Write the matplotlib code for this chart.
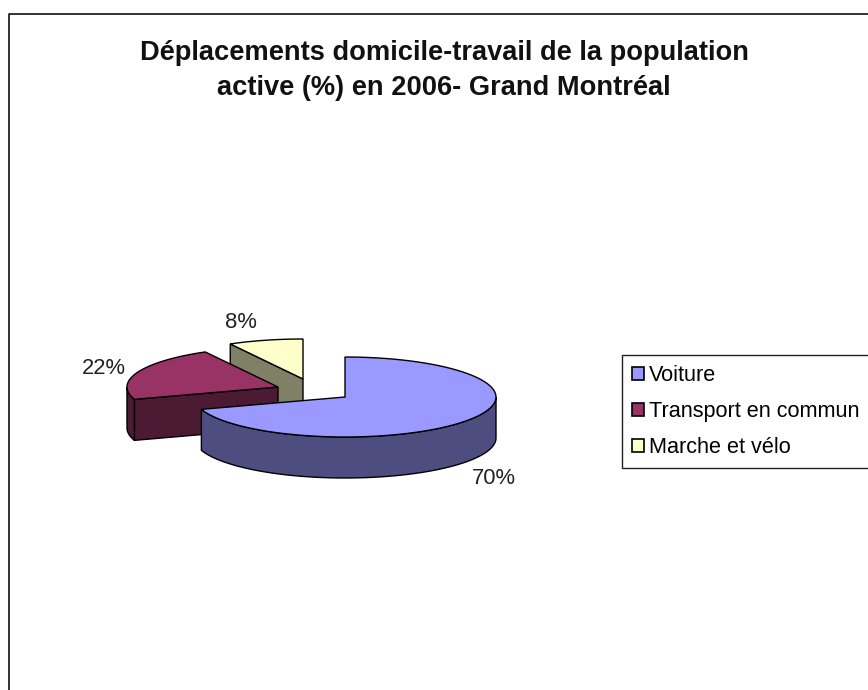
import numpy as np
import matplotlib.pyplot as plt
from matplotlib.patches import Polygon, Patch

plt.rcParams['font.family'] = ['Liberation Sans', 'DejaVu Sans']

# Data
categories = ["Voiture", "Transport en commun", "Marche et vélo"]
values = [70, 22, 8]
labels = ["70%", "22%", "8%"]

# Colours (top, side)
top_colors = ["#9999FF", "#993366", "#FFFFCC"]
side_colors = ["#4D4D80", "#4D1A33", "#808066"]

# Pie layout in pixels
W, H = 868, 690
cx, cy = 345, 397
a, b = 151, 40
depth = 41
offsets = [(0, 0), (-67, -10), (-42, -18)]
label_pos = [(494, 478), (104, 368), (241, 322)]


def rim(start, end, dx, dy, drop=0):
    # angles clockwise from 12 o'clock, in degrees
    t = np.radians(np.linspace(start, end, 80))
    return np.column_stack([cx + dx + a * np.sin(t), cy + dy - b * np.cos(t) + drop])


fig = plt.figure(figsize=(W / 100, H / 100), dpi=100)
ax = fig.add_axes([0, 0, 1, 1])
ax.set_xlim(0, W)
ax.set_ylim(H, 0)
ax.axis('off')

# Outer chart border
ax.plot([8.5, 8.5, W + 5], [H + 5, 13.5, 13.5], color='#111111', lw=1.2)

ax.text(444, 53, "Déplacements domicile-travail de la population", ha='center', va='center',
        fontsize=19.6, fontweight='bold', color='#111111')
ax.text(444, 88, "active (%) en 2006- Grand Montréal", ha='center', va='center',
        fontsize=19.6, fontweight='bold', color='#111111')

# Start angle of each slice
angles = np.concatenate([[0], np.cumsum(values) / np.sum(values) * 360])

# Back slices first so that the big one overlaps them
for i in [2, 1, 0]:
    start, end = angles[i], angles[i + 1]
    dx, dy = offsets[i]
    apex = np.array([cx + dx, cy + dy])

    # Flat cut face, visible on the two slices at the back
    if i > 0:
        p = rim(start, start, dx, dy)[0]
        face = [apex, p, p + [0, depth], apex + [0, depth]]
        ax.add_patch(Polygon(face, closed=True, facecolor=side_colors[i], edgecolor='black', lw=1))

    # Outer wall, only the front half of the ellipse shows
    s, e = max(start, 90), min(end, 270)
    if s < e:
        upper = rim(s, e, dx, dy)
        lower = rim(s, e, dx, dy, depth)
        ax.add_patch(Polygon(np.vstack([upper, lower[::-1]]), closed=True,
                             facecolor=side_colors[i], edgecolor='black', lw=1))

    top = np.vstack([apex, rim(start, end, dx, dy)])
    ax.add_patch(Polygon(top, closed=True, facecolor=top_colors[i], edgecolor='black', lw=1))

for lab, (x, y) in zip(labels, label_pos):
    ax.text(x, y, lab, ha='center', va='center', fontsize=15.8, color='#222222')

# Legend runs off the right edge, as in the reference
handles = [Patch(facecolor=c, edgecolor='black', lw=1.2) for c in top_colors]
ax.legend(handles, categories, loc='upper left', bbox_to_anchor=(622, 355),
          bbox_transform=ax.transData, fontsize=15.6, frameon=True, fancybox=False,
          framealpha=1, edgecolor='#222222', borderaxespad=0, borderpad=0.46,
          handlelength=0.55, handleheight=0.55, handletextpad=0.22, labelspacing=0.69)

fig.savefig("out.png", dpi=100)
